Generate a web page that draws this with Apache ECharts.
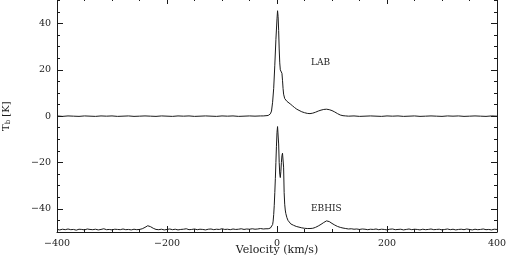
<!DOCTYPE html>
<html><head><meta charset="utf-8">
<script src="https://cdn.jsdelivr.net/npm/echarts@6/dist/echarts.min.js"></script>
<style>html,body{margin:0;padding:0;background:#fff}#c{width:507px;height:260px}</style>
</head><body><div id="c"></div>
<script>
// ---- data (velocity in km/s, brightness temperature in K) ----
const labVelocity = [
 -400,-390,-380,-370,-360,-350,-340,-330,-320,-310,
 -300,-290,-280,-270,-260,-250,-240,-230,-220,-210,
 -200,-190,-180,-170,-160,-150,-140,-130,-120,-110,
 -100,-90,-80,-70,-60,-50,-40,-30,
 -25,-20,-16,-14,-12,-10,-8,-6,-4,-2,
 0,1,2,3,4,5,6,7,8,9,
 10,11,12,14,16,18,20,24,28,32,
 36,40,45,50,55,60,65,70,75,80,
 85,90,95,100,105,110,115,120,125,130,
 140,150,160,170,180,190,200,210,220,230,
 240,250,260,270,280,290,300,310,320,330,
 340,350,360,370,380,390,400
];
const labTb = [
 0.1,-0.1,0.1,0,-0.1,0.1,0,-0.1,0.1,0,
 0.1,-0.1,0,0.1,-0.1,0,0.1,0,-0.1,0.1,
 0,-0.1,0.1,0,0.1,-0.1,0,0.1,0,-0.1,
 0.1,0,0.1,-0.1,0,0.1,0,0.1,
 0.1,0.2,0.3,0.5,1.0,2.2,6.0,12,22,33,
 42,45.5,43,37,29,23,20,19.5,19.5,18.5,
 15.5,12,9.5,7.6,6.9,6.4,6.0,5.3,4.5,3.7,
 3.0,2.5,1.9,1.5,1.2,1.1,1.3,1.7,2.2,2.6,
 2.9,3.0,2.8,2.4,1.8,1.1,0.5,0.2,0.1,0,
 0.1,-0.1,0,0.1,0,-0.1,0.1,0,0.1,-0.1,
 0,0.1,-0.1,0,0.1,0,-0.1,0.1,0,0.1,
 -0.1,0,0.1,0,-0.1,0.1,0
];
const ebhisVelocity = [
 -400,-395,-390,-385,-380,-375,-370,-365,-360,-355,
 -350,-345,-340,-335,-330,-325,-320,-315,-310,-305,
 -300,-295,-290,-285,-280,-275,-270,-265,-260,-255,
 -250,-245,-240,-235,-230,-225,-220,
 -215,-210,-205,-200,-195,-190,-185,-180,-175,-170,
 -165,-160,-155,-150,-145,-140,-135,-130,-125,-120,
 -115,-110,-105,-100,-95,-90,-85,-80,-75,-70,
 -65,-60,-55,-50,-45,-40,-35,-30,-25,-20,
 -18,-16,-14,-12,-10,-9,-8,-7,-6,-5,
 -4,-3,-2,-1,0,1,2,3,4,5,
 6,7,8,9,10,11,12,13,14,15,
 16,18,20,22,25,
 30,35,40,45,50,55,60,65,70,75,
 80,85,90,95,100,105,110,115,120,125,130,
 135,140,145,150,155,160,165,170,175,180,
 185,190,195,200,205,210,215,220,225,230,
 235,240,245,250,255,260,265,270,275,280,
 285,290,295,300,305,310,315,320,325,330,
 335,340,345,350,355,360,365,370,375,380,
 385,390,395,400
];
// EBHIS spectrum drawn shifted by -50 K (values as plotted)
const ebhisTb = [
 -48.9,-49.1,-48.8,-49.0,-48.7,-49.0,-48.9,-49.2,-48.8,-48.9,
 -49.1,-48.7,-48.9,-49.0,-48.8,-49.1,-48.9,-48.6,-49.0,-48.9,
 -49.1,-48.8,-48.9,-49.0,-48.7,-49.0,-48.9,-49.1,-48.8,-49.0,
 -48.9,-48.6,-48.0,-47.3,-47.7,-48.4,-48.9,
 -49.0,-48.8,-49.1,-48.9,-48.7,-49.0,-48.8,-49.1,-48.9,-48.8,
 -48.6,-49.0,-48.9,-48.7,-49.0,-48.8,-48.9,-49.1,-48.8,-48.7,
 -49.0,-48.8,-48.9,-48.6,-48.9,-48.8,-49.0,-48.7,-48.9,-48.8,
 -48.6,-48.9,-48.7,-48.8,-48.6,-48.8,-48.7,-48.5,-48.7,-48.6,
 -48.5,-48.6,-48.4,-48.3,-48.0,-47.6,-46.8,-45.3,-42.5,-38.5,
 -33,-27,-20,-13,-7,-4.5,-5,-12,-20,-25,
 -26.5,-24,-20,-17,-16,-16.5,-22,-33,-38,-40.5,
 -42,-43.8,-45,-45.8,-46.5,
 -47.1,-47.6,-47.9,-48.2,-48.4,-48.5,-48.5,-48.4,-48.0,-47.4,
 -46.7,-45.9,-45.2,-45.5,-46.3,-47.0,-47.6,-48.0,-48.3,-48.5,-48.7,
 -48.6,-48.8,-48.7,-48.9,-48.7,-48.8,-49.0,-48.8,-48.9,-48.7,
 -49.0,-48.8,-48.9,-49.1,-48.8,-48.7,-49.0,-48.9,-48.8,-49.1,
 -48.9,-48.7,-49.0,-48.8,-48.9,-49.1,-48.8,-49.0,-48.9,-48.7,
 -49.0,-48.9,-48.8,-49.1,-48.9,-48.7,-49.0,-48.8,-49.1,-48.9,
 -48.8,-49.0,-48.7,-48.9,-49.1,-48.8,-49.0,-48.9,-48.7,-49.0,
 -48.9,-49.1,-48.8,-48.9
];
const seriesNames = ['LAB', 'EBHIS'];
const xTitle = 'Velocity (km/s)';

// ---- chart ----
const zip = (a, b) => a.map((v, i) => [v, b[i]]);
const font = 'DejaVu Serif';
const ink = '#1a1a1a';
const minus = v => (v < 0 ? '\u2212' + (-v) : String(v));
const chart = echarts.init(document.getElementById('c'), null, {renderer: 'canvas'});
const baseY = {
  type: 'value', min: -50, max: 51, interval: 5, gridIndex: 0,
  axisLine: {show: true, onZero: false, lineStyle: {color: ink, width: 1}},
  axisTick: {show: true, inside: true, length: 3, lineStyle: {color: ink}},
  axisLabel: {show: false}, splitLine: {show: false}
};
const majorY = {
  type: 'value', min: -40, max: 40, interval: 20, gridIndex: 1,
  axisLine: {show: false, onZero: false},
  axisTick: {show: true, inside: true, length: 6, lineStyle: {color: ink}},
  splitLine: {show: false}
};
const baseX = {
  type: 'value', min: -400, max: 400, interval: 200, gridIndex: 0,
  axisLine: {show: true, onZero: false, lineStyle: {color: ink, width: 1}},
  axisTick: {show: true, inside: true, length: 6, lineStyle: {color: ink}},
  minorTick: {show: true, splitNumber: 4, length: 3, lineStyle: {color: ink}},
  splitLine: {show: false}, minorSplitLine: {show: false}
};
chart.setOption({
  animation: false,
  backgroundColor: '#fff',
  grid: [
    {left: 57, right: 10, top: -2, height: 234, outerBoundsMode: 'none', containLabel: false},
    {left: 57, right: 10, top: 23.5, height: 185.4, outerBoundsMode: 'none', containLabel: false}
  ],
  xAxis: [
    Object.assign({}, baseX, {position: 'bottom',
      axisLabel: {color: ink, fontFamily: font, fontSize: 9.5, margin: 7, formatter: minus}}),
    Object.assign({}, baseX, {position: 'top', axisLabel: {show: false}}),
    {type: 'value', gridIndex: 1, min: -400, max: 400, show: false, axisLine: {onZero: false}}
  ],
  yAxis: [
    Object.assign({}, baseY, {position: 'left'}),
    Object.assign({}, baseY, {position: 'right'}),
    Object.assign({}, majorY, {position: 'left',
      axisLabel: {color: ink, fontFamily: font, fontSize: 9.5, margin: 6, formatter: minus},
      name: '{t|T}{s|b}{t| [K]}', nameLocation: 'middle', nameGap: 45,
      nameTextStyle: {rich: {
        t: {color: ink, fontFamily: font, fontSize: 10},
        s: {color: ink, fontFamily: font, fontSize: 7, verticalAlign: 'bottom', padding: [4, 0, 0, 0]}
      }}}),
    Object.assign({}, majorY, {position: 'right', axisLabel: {show: false}})
  ],
  graphic: [
    {type: 'text', left: 311, top: 58, style: {text: seriesNames[0], font: '9px "DejaVu Serif"', fill: ink}},
    {type: 'text', left: 311, top: 204, style: {text: seriesNames[1], font: '9px "DejaVu Serif"', fill: ink}},
    {type: 'text', x: 277, y: 250, style: {text: xTitle, font: '11px "DejaVu Serif"', fill: ink, align: 'center', verticalAlign: 'middle'}}
  ],
  series: [
    {name: seriesNames[0], type: 'line', xAxisIndex: 0, yAxisIndex: 0, data: zip(labVelocity, labTb),
     showSymbol: false, lineStyle: {color: ink, width: 1}, clip: true},
    {name: seriesNames[1], type: 'line', xAxisIndex: 0, yAxisIndex: 0, data: zip(ebhisVelocity, ebhisTb),
     showSymbol: false, lineStyle: {color: ink, width: 1}, clip: true}
  ]
});
</script></body></html>
